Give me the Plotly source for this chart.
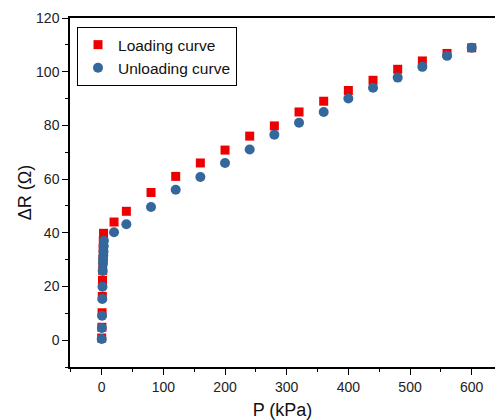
import plotly.graph_objects as go

# Loading curve
load_p = [0, 0.3, 0.6, 1, 1.3, 1.6, 2, 2.3, 2.6, 3, 20, 40, 80, 120, 160, 200, 240, 280, 320, 360, 400, 440, 480, 520, 560, 600]
load_r = [0.8, 4.8, 10.2, 16.3, 22.3, 26, 30, 34, 37, 39.8, 44, 48, 55, 61, 66, 70.8, 76, 79.8, 85, 89, 93, 96.8, 100.9, 104, 106.8, 108.9]

# Unloading curve
unload_p = [0, 0.3, 0.6, 1, 1.3, 1.6, 2, 2.3, 2.6, 3, 3.3, 3.6, 20, 40, 80, 120, 160, 200, 240, 280, 320, 360, 400, 440, 480, 520, 560, 600]
unload_r = [0.4, 4.5, 9.1, 15.3, 19.9, 25.8, 28.5, 30, 31.5, 33, 35, 37, 40.2, 43.2, 49.6, 56, 60.8, 66, 71, 76.5, 81, 85, 90, 94, 97.8, 101.8, 105.9, 108.9]

fig = go.Figure()
fig.add_trace(go.Scatter(x=load_p, y=load_r, mode="markers", name="Loading curve",
                         marker=dict(symbol="square", size=9, color="#ee0000")))
fig.add_trace(go.Scatter(x=unload_p, y=unload_r, mode="markers", name="Unloading curve",
                         marker=dict(symbol="circle", size=10, color="#34679a")))

axis_font = dict(family="Arial, Liberation Sans, sans-serif", size=14, color="#222")
fig.update_layout(
    width=495, height=420,
    margin=dict(l=70, r=0, t=18, b=53),
    plot_bgcolor="white", paper_bgcolor="white",
    font=dict(family="Arial, Liberation Sans, sans-serif", size=14, color="#222"),
    showlegend=True,
    legend=dict(x=0.0165, y=0.974, xanchor="left", yanchor="top",
                bordercolor="black", borderwidth=1, bgcolor="white",
                font=dict(size=15.5, color="#111"), tracegroupgap=0),
    xaxis=dict(range=[-51.4, 637.8], tickvals=[0, 100, 200, 300, 400, 500, 600],
               ticks="outside", ticklen=6, tickwidth=1.2, tickcolor="black",
               showline=True, linecolor="black", linewidth=1.5, mirror=True,
               showgrid=False, zeroline=False, tickfont=axis_font,
               minor=dict(tickvals=[-50, 50, 150, 250, 350, 450, 550], ticks="outside", ticklen=3, tickcolor="black", showgrid=False),
               title=dict(text="P (kPa)", font=dict(size=18, color="#111"), standoff=14)),
    yaxis=dict(range=[-10, 120], tickvals=[0, 20, 40, 60, 80, 100, 120],
               ticks="outside", ticklen=6, tickwidth=1.2, tickcolor="black",
               showline=True, linecolor="black", linewidth=1.5, mirror=False,
               showgrid=False, zeroline=False, tickfont=axis_font,
               minor=dict(tickvals=[-10, 10, 30, 50, 70, 90, 110], ticks="outside", ticklen=3, tickcolor="black", showgrid=False),
               title=dict(text="ΔR (Ω)", font=dict(size=18, color="#111"), standoff=0)),
)

fig.write_html("out.html")
